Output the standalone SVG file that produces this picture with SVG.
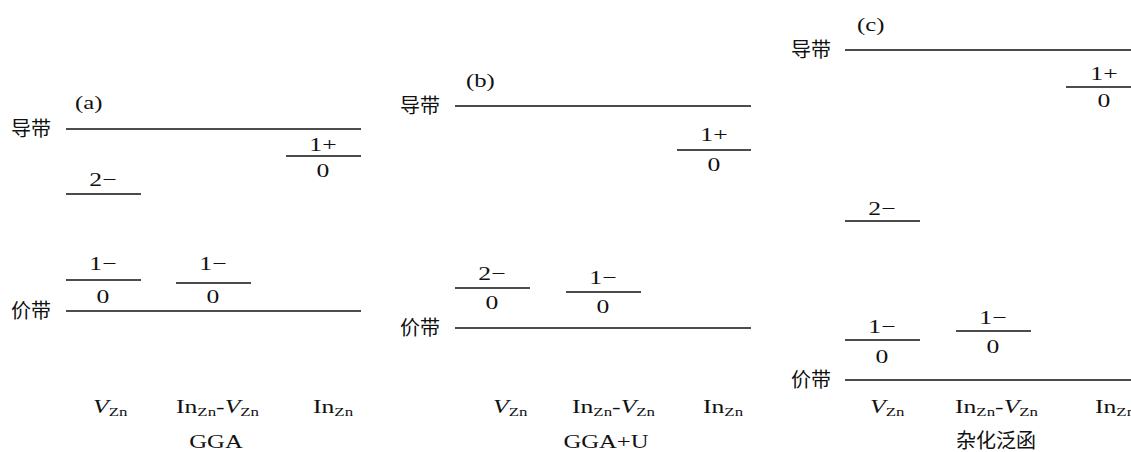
<svg xmlns="http://www.w3.org/2000/svg" width="1131" height="452" viewBox="0 0 1131 452">
<style>
.ln{stroke:#111;stroke-width:1.7;fill:none}
.t{font-family:"Liberation Serif","DejaVu Serif",serif;font-size:19px;fill:#111}
.tm{text-anchor:middle}
.cj{font-family:"Noto Sans CJK SC","Noto Sans",sans-serif;font-size:20px;fill:#111}
.it{font-style:italic}
.sb{font-size:12.5px}
</style>
<rect width="1131" height="452" fill="#fff"/>
<g id="connectors">
<line class="ln" x1="66" y1="129" x2="361" y2="129"/>
<line class="ln" x1="286" y1="156" x2="361" y2="156"/>
<line class="ln" x1="66" y1="194" x2="141" y2="194"/>
<line class="ln" x1="66" y1="280" x2="141" y2="280"/>
<line class="ln" x1="176" y1="283" x2="251" y2="283"/>
<line class="ln" x1="66" y1="311" x2="361" y2="311"/>
<line class="ln" x1="455" y1="106" x2="751" y2="106"/>
<line class="ln" x1="677" y1="150" x2="751" y2="150"/>
<line class="ln" x1="455" y1="288" x2="530" y2="288"/>
<line class="ln" x1="566" y1="292" x2="641" y2="292"/>
<line class="ln" x1="455" y1="328" x2="751" y2="328"/>
<line class="ln" x1="845" y1="50" x2="1131" y2="50"/>
<line class="ln" x1="1066" y1="87" x2="1131" y2="87"/>
<line class="ln" x1="845" y1="221" x2="920" y2="221"/>
<line class="ln" x1="845" y1="340" x2="920" y2="340"/>
<line class="ln" x1="956" y1="331" x2="1031" y2="331"/>
<line class="ln" x1="845" y1="380" x2="1131" y2="380"/>
</g>
<g id="panel-a">
<text class="t" transform="translate(75 109) scale(1.3 1)">(a)</text>
<text class="cj" x="11" y="136">导带</text>
<text class="cj" x="11" y="318">价带</text>
<text class="t tm" transform="translate(323 151) scale(1.35 1)">1+</text>
<text class="t tm" transform="translate(323 177) scale(1.35 1)">0</text>
<text class="t tm" transform="translate(103 186) scale(1.35 1)">2−</text>
<text class="t tm" transform="translate(103 270) scale(1.35 1)">1−</text>
<text class="t tm" transform="translate(103 303) scale(1.35 1)">0</text>
<text class="t tm" transform="translate(213 270) scale(1.35 1)">1−</text>
<text class="t tm" transform="translate(213 303) scale(1.35 1)">0</text>
<text class="t" transform="translate(93 413) scale(1.35 1)"><tspan class="it">V</tspan><tspan class="sb" dy="3">Zn</tspan></text>
<text class="t" transform="translate(176 413) scale(1.35 1)">In<tspan class="sb" dy="3">Zn</tspan><tspan dy="-3">-</tspan><tspan class="it">V</tspan><tspan class="sb" dy="3">Zn</tspan></text>
<text class="t" transform="translate(313 413) scale(1.35 1)">In<tspan class="sb" dy="3">Zn</tspan></text>
<text class="t tm" transform="translate(216 448) scale(1.3 1)">GGA</text>
</g>
<g id="panel-b">
<text class="t" transform="translate(466 87) scale(1.3 1)">(b)</text>
<text class="cj" x="400" y="113">导带</text>
<text class="cj" x="400" y="335">价带</text>
<text class="t tm" transform="translate(714 141) scale(1.35 1)">1+</text>
<text class="t tm" transform="translate(714 171) scale(1.35 1)">0</text>
<text class="t tm" transform="translate(492 280) scale(1.35 1)">2−</text>
<text class="t tm" transform="translate(492 309) scale(1.35 1)">0</text>
<text class="t tm" transform="translate(603 284) scale(1.35 1)">1−</text>
<text class="t tm" transform="translate(603 313) scale(1.35 1)">0</text>
<text class="t" transform="translate(493 413) scale(1.35 1)"><tspan class="it">V</tspan><tspan class="sb" dy="3">Zn</tspan></text>
<text class="t" transform="translate(572 413) scale(1.35 1)">In<tspan class="sb" dy="3">Zn</tspan><tspan dy="-3">-</tspan><tspan class="it">V</tspan><tspan class="sb" dy="3">Zn</tspan></text>
<text class="t" transform="translate(703 413) scale(1.35 1)">In<tspan class="sb" dy="3">Zn</tspan></text>
<text class="t tm" transform="translate(606 448) scale(1.3 1)">GGA+U</text>
</g>
<g id="panel-c">
<text class="t" transform="translate(857 31) scale(1.3 1)">(c)</text>
<text class="cj" x="791" y="57">导带</text>
<text class="cj" x="791" y="387">价带</text>
<text class="t tm" transform="translate(1104 80) scale(1.35 1)">1+</text>
<text class="t tm" transform="translate(1104 107) scale(1.35 1)">0</text>
<text class="t tm" transform="translate(882 215) scale(1.35 1)">2−</text>
<text class="t tm" transform="translate(882 333) scale(1.35 1)">1−</text>
<text class="t tm" transform="translate(882 363) scale(1.35 1)">0</text>
<text class="t tm" transform="translate(993 324) scale(1.35 1)">1−</text>
<text class="t tm" transform="translate(993 353) scale(1.35 1)">0</text>
<text class="t" transform="translate(870 413) scale(1.35 1)"><tspan class="it">V</tspan><tspan class="sb" dy="3">Zn</tspan></text>
<text class="t" transform="translate(955 413) scale(1.35 1)">In<tspan class="sb" dy="3">Zn</tspan><tspan dy="-3">-</tspan><tspan class="it">V</tspan><tspan class="sb" dy="3">Zn</tspan></text>
<text class="t" transform="translate(1095 413) scale(1.35 1)">In<tspan class="sb" dy="3">Zn</tspan></text>
<text class="cj tm" x="996" y="448">杂化泛函</text>
</g>
</svg>
